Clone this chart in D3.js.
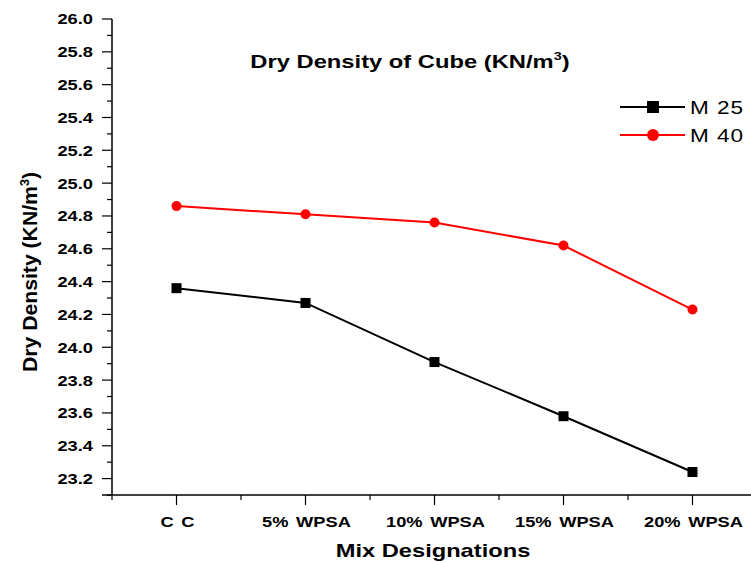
<!DOCTYPE html>
<html>
<head>
<meta charset="utf-8">
<script src="https://cdn.jsdelivr.net/npm/d3@7"></script>
<style>
  body { margin: 0; background: #fff; }
  text { font-family: "Liberation Sans", Arial, sans-serif; }
</style>
</head>
<body>
<svg id="svg" width="751" height="562"></svg>
<script>
// chart data
const categories = ["C C", "5% WPSA", "10% WPSA", "15% WPSA", "20% WPSA"];
const m25 = [24.36, 24.27, 23.91, 23.58, 23.24];
const m40 = [24.86, 24.81, 24.76, 24.62, 24.23];
const yTicks = [23.2, 23.4, 23.6, 23.8, 24.0, 24.2, 24.4, 24.6, 24.8, 25.0, 25.2, 25.4, 25.6, 25.8, 26.0];

const svg = d3.select("#svg");

const x = d3.scaleLinear().domain([0.5, 5.5]).range([112, 757]);
const y = d3.scaleLinear().domain([23.1, 26.0]).range([495, 19]);

// the original text is drawn wide, so stretch it a bit horizontally
const SX = 1.28;

// y axis
const yAxis = svg.append("g").attr("transform", "translate(112,0)");
yAxis.append("line")
  .attr("x1", 0).attr("x2", 0)
  .attr("y1", y(26.0)).attr("y2", y(23.1))
  .attr("stroke", "#000").attr("stroke-width", 1.5);
// minor ticks
yAxis.selectAll(".ymin")
  .data(d3.range(23.1, 26.0, 0.2))
  .join("line")
  .attr("x1", -5).attr("x2", 0)
  .attr("y1", (d) => y(d)).attr("y2", (d) => y(d))
  .attr("stroke", "#000").attr("stroke-width", 1.2);
yAxis.selectAll(".ymaj")
  .data(yTicks)
  .join("line")
  .attr("x1", -10).attr("x2", 0)
  .attr("y1", (d) => y(d)).attr("y2", (d) => y(d))
  .attr("stroke", "#000").attr("stroke-width", 1.2);
yAxis.selectAll(".ylab")
  .data(yTicks)
  .join("text")
  .attr("transform", (d) => "translate(-19," + y(d) + ") scale(1.22,1)")
  .attr("dy", "0.36em")
  .attr("text-anchor", "end")
  .style("font-size", "15px")
  .style("font-weight", "bold")
  .text((d) => d.toFixed(1));

// x axis
const xAxis = svg.append("g").attr("transform", "translate(0,495)");
xAxis.append("line")
  .attr("x1", 102).attr("x2", 757)
  .attr("y1", 0).attr("y2", 0)
  .attr("stroke", "#000").attr("stroke-width", 1.5);
xAxis.selectAll(".xmin")
  .data([0.5, 1.5, 2.5, 3.5, 4.5])
  .join("line")
  .attr("x1", (d) => x(d)).attr("x2", (d) => x(d))
  .attr("y1", 0).attr("y2", 5)
  .attr("stroke", "#000").attr("stroke-width", 1.2);
xAxis.selectAll(".xmaj")
  .data(categories)
  .join("line")
  .attr("x1", (d, i) => x(i + 1)).attr("x2", (d, i) => x(i + 1))
  .attr("y1", 0).attr("y2", 10)
  .attr("stroke", "#000").attr("stroke-width", 1.2);
xAxis.selectAll(".xlab")
  .data(categories)
  .join("text")
  .attr("transform", (d, i) => "translate(" + (x(i + 1) + 1) + ",32) scale(1.22,1)")
  .attr("text-anchor", "middle")
  .style("font-size", "15px")
  .style("font-weight", "bold")
  .style("word-spacing", "2px")
  .text((d) => d);

// axis titles
svg.append("text")
  .attr("transform", "translate(433,557) scale(" + SX + ",1)")
  .attr("text-anchor", "middle")
  .style("font-size", "18.5px")
  .style("font-weight", "bold")
  .text("Mix Designations");

const yTitle = svg.append("text")
  .attr("transform", "translate(37,272) rotate(-90) scale(1.06,1)")
  .attr("text-anchor", "middle")
  .style("font-size", "20px")
  .style("font-weight", "bold");
yTitle.append("tspan").text("Dry Density (KN/m");
yTitle.append("tspan").attr("dy", -8).style("font-size", "12px").text("3");
yTitle.append("tspan").attr("dy", 8).text(")");

// chart title
const title = svg.append("text")
  .attr("transform", "translate(410,68) scale(1.32,1)")
  .attr("text-anchor", "middle")
  .style("font-size", "18px")
  .style("font-weight", "bold");
title.append("tspan").text("Dry Density of Cube (KN/m");
title.append("tspan").attr("dy", -8).style("font-size", "11px").text("3");
title.append("tspan").attr("dy", 8).text(")");

// lines
const line = d3.line().x((d, i) => x(i + 1)).y((d) => y(d));
const series = [
  { name: "M 25", values: m25, color: "#000", shape: "square" },
  { name: "M 40", values: m40, color: "#ff0000", shape: "circle" }
];

series.forEach((s) => {
  svg.append("path")
    .datum(s.values)
    .attr("fill", "none")
    .attr("stroke", s.color)
    .attr("stroke-width", 2)
    .attr("d", line);
  if (s.shape === "square") {
    svg.selectAll(".sq")
      .data(s.values)
      .join("rect")
      .attr("x", (d, i) => x(i + 1) - 5)
      .attr("y", (d) => y(d) - 5)
      .attr("width", 10).attr("height", 10)
      .attr("fill", s.color);
  } else {
    svg.selectAll(".ci")
      .data(s.values)
      .join("circle")
      .attr("cx", (d, i) => x(i + 1))
      .attr("cy", (d) => y(d))
      .attr("r", 5)
      .attr("fill", s.color);
  }
});

// legend
const legend = svg.append("g");
series.forEach((s, i) => {
  const ly = 107 + i * 28;
  legend.append("line")
    .attr("x1", 620).attr("x2", 685)
    .attr("y1", ly).attr("y2", ly)
    .attr("stroke", s.color).attr("stroke-width", 2);
  if (s.shape === "square") {
    legend.append("rect")
      .attr("x", 647).attr("y", ly - 6)
      .attr("width", 12).attr("height", 12)
      .attr("fill", s.color);
  } else {
    legend.append("circle")
      .attr("cx", 653).attr("cy", ly).attr("r", 6)
      .attr("fill", s.color);
  }
  legend.append("text")
    .attr("transform", "translate(690," + ly + ") scale(1.22,1)")
    .attr("dy", "0.36em")
    .style("font-size", "18.5px")
    .style("letter-spacing", "0.8px")
    .text(s.name);
});
</script>
</body>
</html>
